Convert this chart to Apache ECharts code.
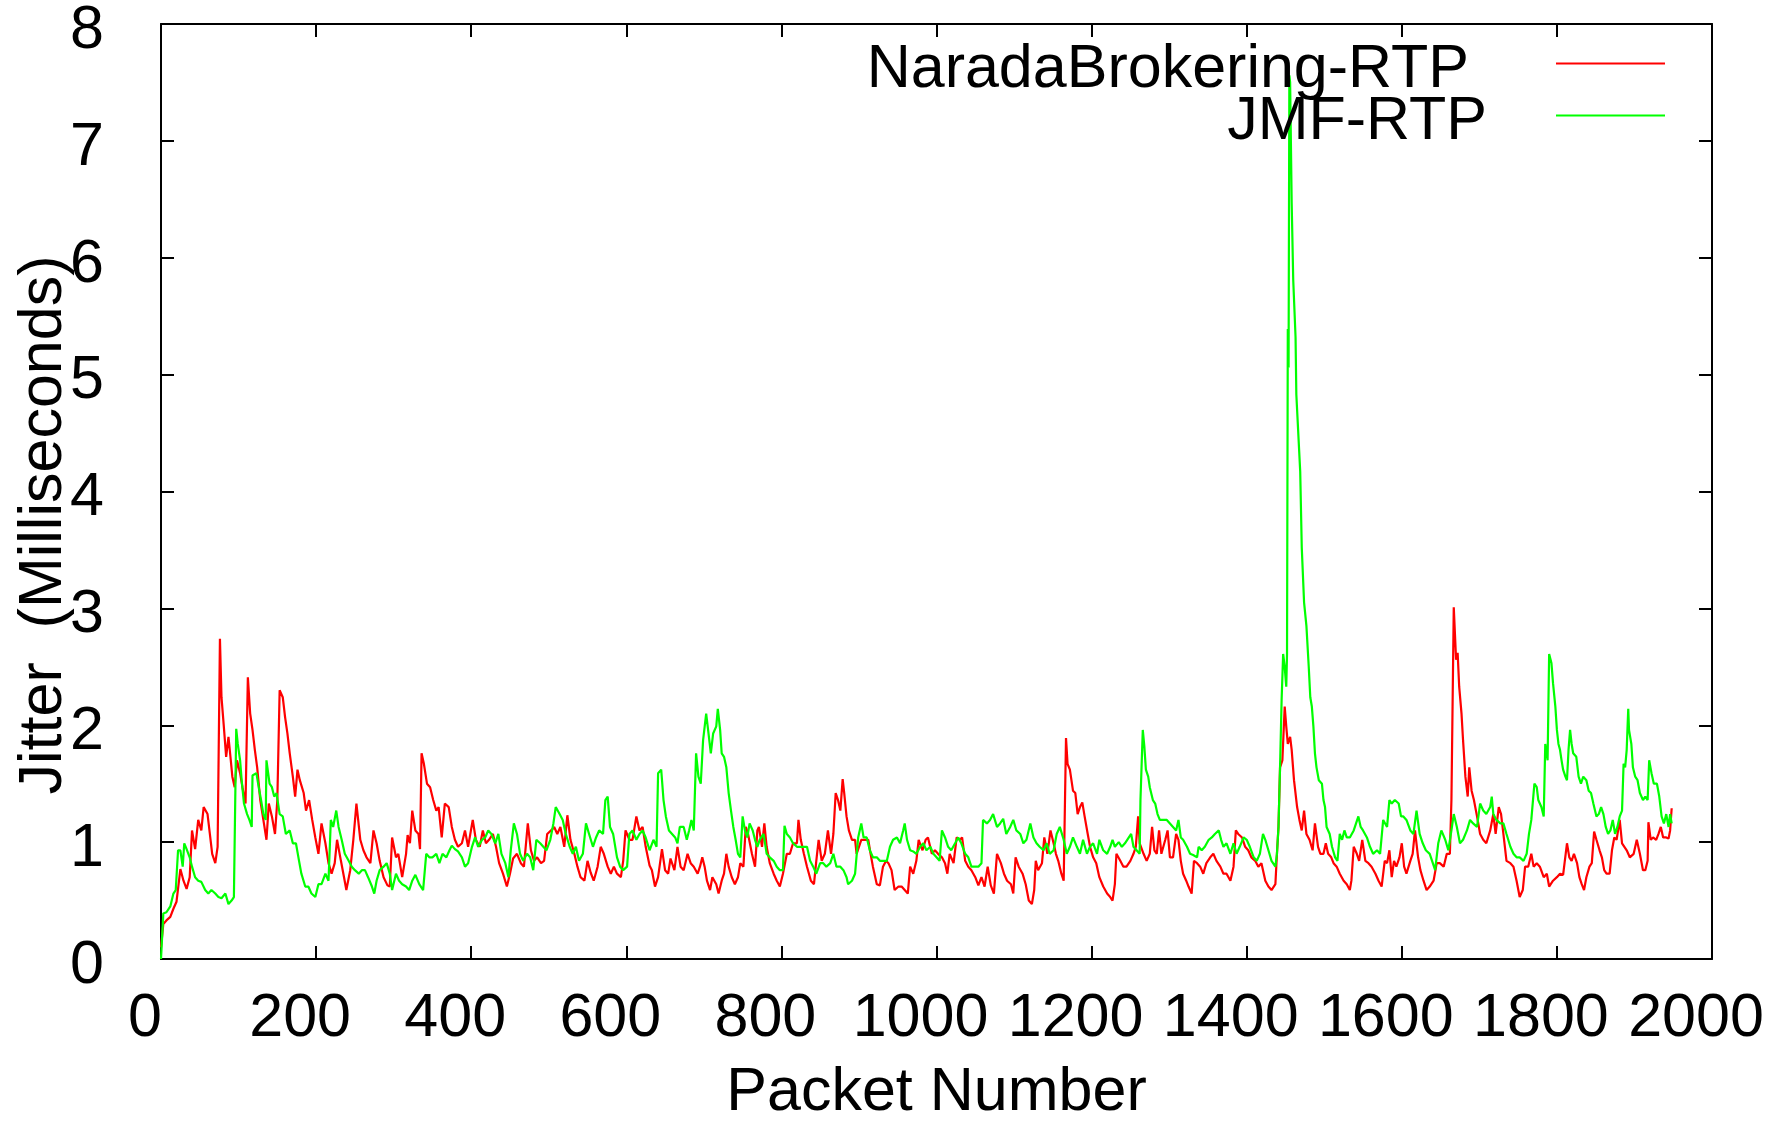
<!DOCTYPE html>
<html>
<head>
<meta charset="utf-8">
<script src="https://cdn.jsdelivr.net/npm/echarts@6/dist/echarts.min.js"></script>
<style>
html,body{margin:0;padding:0;background:#ffffff;}
#chart{width:1767px;height:1121px;}
</style>
</head>
<body>
<div id="chart"></div>
<script>
// ---- data (packet number, jitter in ms) ----
const seriesNames = ['NaradaBrokering-RTP', 'JMF-RTP'];
const xAxisTitle = 'Packet Number';
const yAxisTitle = 'Jitter  (Milliseconds)';
const xRange = [0, 2000, 200];
const yRange = [0, 8, 1];

const narada = [
[0,0.10],[3,0.30],[7,0.33],[12,0.36],[16,0.43],[20,0.49],[25,0.77],[29,0.67],[33,0.60],[37,0.70],
[40,1.10],[44,0.94],[48,1.19],[52,1.10],[55,1.30],[60,1.24],[63,1.07],[66,0.90],[70,0.82],[73,0.96],
[76,2.74],[78,2.24],[81,1.99],[84,1.73],[87,1.90],[90,1.70],[92,1.56],[95,1.47],[98,1.70],[102,1.59],
[105,1.47],[109,1.33],[112,2.41],[115,2.10],[118,1.96],[121,1.79],[124,1.64],[128,1.36],[132,1.19],[136,1.02],
[139,1.33],[143,1.22],[147,1.07],[150,1.36],[153,2.30],[157,2.24],[160,2.07],[163,1.93],[166,1.76],[170,1.56],
[173,1.39],[176,1.62],[179,1.53],[184,1.42],[187,1.27],[191,1.36],[195,1.19],[199,1.04],[203,0.90],[207,1.16],
[212,0.99],[216,0.82],[220,0.73],[224,0.82],[227,1.02],[232,0.84],[236,0.70],[239,0.59],[244,0.76],[248,1.02],
[252,1.33],[257,1.02],[261,0.93],[265,0.87],[270,0.82],[274,1.10],[278,0.99],[282,0.84],[287,0.70],[292,0.63],
[295,0.62],[298,1.04],[303,0.87],[306,0.90],[311,0.70],[316,0.90],[318,1.06],[321,0.99],[324,1.27],[328,1.10],
[332,1.07],[334,0.94],[336,1.76],[339,1.67],[343,1.50],[347,1.47],[351,1.36],[355,1.27],[358,1.30],[362,1.04],
[366,1.33],[371,1.30],[375,1.13],[379,1.02],[383,0.96],[388,0.99],[392,1.10],[396,0.96],[402,1.19],[406,1.02],
[411,0.96],[415,1.10],[419,0.99],[423,1.02],[428,1.07],[432,0.96],[436,0.82],[441,0.73],[446,0.62],[450,0.73],
[454,0.86],[459,0.90],[464,0.82],[468,0.79],[473,1.16],[477,0.93],[481,0.84],[485,0.87],[490,0.82],[494,0.84],
[498,1.07],[503,1.10],[507,1.13],[511,1.07],[515,1.13],[520,0.96],[524,1.23],[528,1.02],[533,0.90],[537,0.79],
[541,0.70],[546,0.67],[550,0.84],[554,0.74],[558,0.67],[563,0.79],[567,0.96],[571,0.90],[576,0.79],[580,0.73],
[584,0.79],[588,0.73],[593,0.70],[596,0.84],[599,1.10],[604,1.02],[608,1.02],[613,1.22],[617,1.10],[621,1.13],
[625,0.96],[630,0.80],[633,0.76],[637,0.62],[641,0.70],[646,0.94],[650,0.76],[654,0.73],[657,0.86],[662,0.76],
[666,0.96],[670,0.79],[674,0.76],[679,0.90],[683,0.82],[687,0.79],[692,0.73],[695,0.79],[698,0.87],[701,0.79],
[704,0.67],[708,0.59],[711,0.70],[716,0.64],[719,0.56],[723,0.67],[726,0.73],[729,0.90],[732,0.79],[736,0.70],
[740,0.64],[744,0.70],[747,0.82],[751,0.79],[754,1.13],[757,1.07],[762,0.90],[766,0.79],[769,1.10],[771,1.13],
[775,0.96],[778,1.16],[781,0.96],[785,0.82],[790,0.73],[794,0.67],[798,0.62],[802,0.73],[807,0.90],[811,0.90],
[815,0.99],[820,0.99],[822,1.19],[825,1.02],[829,0.90],[833,0.79],[838,0.67],[842,0.64],[845,0.84],[848,1.02],
[852,0.84],[856,0.90],[860,1.10],[864,0.90],[867,1.07],[870,1.42],[873,1.36],[876,1.27],[879,1.54],[881,1.42],
[884,1.22],[887,1.10],[891,1.02],[895,1.02],[897,0.90],[900,0.96],[903,1.02],[908,1.02],[912,1.02],[915,0.90],
[918,0.79],[923,0.64],[927,0.63],[931,0.79],[935,0.84],[938,0.82],[942,0.76],[946,0.59],[951,0.62],[955,0.62],
[959,0.59],[963,0.56],[966,0.79],[970,0.73],[974,0.84],[977,1.02],[982,0.93],[986,1.02],[989,1.04],[994,0.90],
[998,0.93],[1002,0.90],[1007,0.87],[1011,0.82],[1014,0.73],[1017,0.90],[1022,0.82],[1026,1.04],[1030,1.02],[1033,1.04],
[1037,0.84],[1041,0.79],[1045,0.76],[1050,0.70],[1054,0.63],[1058,0.70],[1062,0.62],[1066,0.79],[1070,0.63],[1074,0.56],
[1078,0.90],[1083,0.82],[1087,0.73],[1091,0.67],[1096,0.64],[1099,0.56],[1102,0.87],[1106,0.79],[1111,0.73],[1115,0.64],
[1119,0.50],[1123,0.47],[1126,0.59],[1128,0.84],[1131,0.76],[1136,0.82],[1139,1.04],[1143,0.90],[1147,1.10],[1151,0.99],
[1154,0.90],[1157,0.84],[1161,0.73],[1164,0.67],[1167,1.89],[1169,1.67],[1172,1.62],[1176,1.44],[1179,1.42],[1182,1.24],
[1185,1.30],[1188,1.34],[1191,1.22],[1195,1.07],[1198,0.96],[1202,0.87],[1206,0.82],[1210,0.70],[1215,0.62],[1220,0.56],
[1224,0.53],[1227,0.50],[1230,0.64],[1232,0.90],[1237,0.84],[1241,0.79],[1245,0.79],[1250,0.84],[1254,0.90],[1257,0.96],
[1260,1.22],[1262,0.99],[1267,0.90],[1271,0.84],[1275,0.90],[1278,1.13],[1281,0.93],[1284,0.90],[1287,1.10],[1290,0.90],
[1295,1.02],[1298,1.10],[1301,0.87],[1305,0.87],[1309,1.07],[1312,1.02],[1315,0.84],[1318,0.73],[1322,0.67],[1325,0.62],
[1329,0.56],[1332,0.84],[1336,0.82],[1340,0.79],[1344,0.73],[1348,0.82],[1353,0.87],[1357,0.90],[1361,0.84],[1366,0.79],
[1370,0.73],[1374,0.73],[1379,0.67],[1383,0.79],[1386,1.10],[1389,1.07],[1394,1.04],[1398,0.96],[1402,0.93],[1406,0.87],
[1411,0.84],[1415,0.79],[1419,0.82],[1424,0.67],[1428,0.62],[1432,0.59],[1437,0.64],[1439,0.90],[1441,1.13],[1443,1.64],
[1446,1.70],[1449,2.16],[1451,1.99],[1453,1.84],[1456,1.90],[1458,1.79],[1461,1.53],[1465,1.30],[1468,1.19],[1471,1.10],
[1474,1.27],[1477,1.07],[1481,1.02],[1485,0.93],[1488,1.16],[1492,0.96],[1495,0.90],[1499,0.90],[1502,0.99],[1505,0.90],
[1509,0.87],[1512,0.82],[1516,0.79],[1520,0.73],[1525,0.67],[1529,0.64],[1533,0.59],[1535,0.67],[1538,0.96],[1542,0.90],
[1545,0.84],[1549,1.02],[1553,0.84],[1557,0.82],[1561,0.79],[1566,0.73],[1570,0.67],[1574,0.62],[1578,0.84],[1581,0.82],
[1584,0.93],[1587,0.70],[1590,0.84],[1593,0.79],[1597,0.87],[1600,0.99],[1603,0.79],[1606,0.73],[1611,0.84],[1614,0.90],
[1617,1.10],[1621,0.87],[1624,0.76],[1628,0.67],[1632,0.59],[1636,0.62],[1641,0.67],[1645,0.82],[1649,0.82],[1654,0.79],
[1658,0.90],[1662,0.90],[1664,1.36],[1667,3.01],[1670,2.56],[1672,2.62],[1674,2.33],[1677,2.10],[1679,1.87],[1682,1.56],
[1685,1.39],[1687,1.64],[1690,1.44],[1693,1.36],[1697,1.22],[1701,1.07],[1705,1.02],[1709,0.99],[1714,1.10],[1718,1.24],
[1721,1.07],[1725,1.30],[1728,1.24],[1731,1.07],[1735,0.84],[1740,0.82],[1744,0.79],[1748,0.67],[1752,0.53],[1756,0.59],
[1759,0.79],[1763,0.79],[1767,0.90],[1770,0.79],[1774,0.82],[1778,0.79],[1783,0.70],[1787,0.73],[1790,0.62],[1795,0.67],
[1800,0.70],[1804,0.73],[1808,0.72],[1813,0.99],[1816,0.87],[1819,0.84],[1822,0.90],[1826,0.82],[1829,0.70],[1832,0.64],
[1835,0.59],[1838,0.70],[1842,0.79],[1845,0.82],[1848,1.09],[1851,1.02],[1855,0.93],[1858,0.87],[1861,0.76],[1864,0.73],
[1868,0.73],[1871,0.93],[1874,1.04],[1877,1.02],[1881,1.19],[1884,0.99],[1887,0.96],[1890,0.93],[1894,0.87],[1899,0.90],
[1903,1.02],[1907,0.90],[1911,0.76],[1914,0.76],[1917,0.84],[1918,1.17],[1921,1.02],[1924,1.04],[1928,1.02],[1931,1.07],
[1934,1.13],[1937,1.04],[1941,1.04],[1944,1.03],[1946,1.10],[1948,1.29]
];

const jmf = [
[0,0.00],[3,0.39],[7,0.40],[12,0.45],[16,0.56],[19,0.59],[22,0.93],[25,0.93],[28,0.79],[30,0.99],
[33,0.94],[37,0.87],[40,0.79],[44,0.70],[48,0.67],[52,0.66],[57,0.59],[61,0.56],[65,0.59],[70,0.56],
[74,0.53],[78,0.52],[83,0.56],[87,0.47],[91,0.50],[94,0.53],[97,1.97],[99,1.84],[102,1.70],[104,1.53],
[107,1.33],[111,1.24],[114,1.19],[117,1.13],[118,1.57],[123,1.59],[126,1.47],[129,1.36],[132,1.24],[135,1.19],
[136,1.70],[140,1.50],[143,1.47],[146,1.39],[149,1.42],[153,1.24],[157,1.22],[161,1.07],[166,1.10],[170,0.99],
[174,0.99],[178,0.84],[181,0.73],[186,0.62],[190,0.62],[194,0.56],[199,0.53],[203,0.64],[207,0.64],[212,0.73],
[216,0.67],[219,1.19],[222,1.13],[226,1.27],[229,1.13],[233,1.02],[237,0.90],[242,0.84],[246,0.79],[250,0.76],
[255,0.73],[259,0.76],[263,0.76],[267,0.70],[272,0.62],[275,0.56],[278,0.67],[282,0.76],[287,0.79],[291,0.82],
[295,0.73],[298,0.59],[303,0.73],[307,0.67],[311,0.64],[316,0.62],[320,0.59],[324,0.67],[328,0.72],[333,0.64],
[338,0.59],[342,0.90],[346,0.87],[350,0.87],[355,0.90],[359,0.82],[363,0.90],[368,0.87],[372,0.93],[375,0.97],
[379,0.94],[383,0.92],[388,0.87],[392,0.79],[396,0.82],[401,0.96],[405,1.04],[409,0.96],[414,1.02],[418,1.04],
[422,1.10],[426,1.07],[431,0.99],[435,1.07],[439,0.90],[444,0.82],[448,0.70],[451,0.93],[455,1.16],[459,1.07],
[463,0.90],[467,0.84],[472,0.90],[476,0.87],[480,0.76],[484,1.02],[489,0.99],[493,0.96],[497,0.93],[502,1.02],
[506,1.16],[509,1.30],[514,1.24],[518,1.19],[522,1.07],[527,0.96],[531,0.90],[535,0.96],[539,0.84],[544,0.90],
[548,1.16],[552,1.07],[557,0.96],[561,1.04],[565,1.10],[570,1.07],[573,1.36],[576,1.39],[579,1.13],[583,1.07],
[588,0.87],[592,0.79],[596,0.76],[601,0.79],[604,1.07],[608,1.10],[613,1.02],[617,1.07],[621,1.10],[625,1.04],
[630,0.93],[635,1.02],[639,0.96],[641,1.59],[645,1.62],[648,1.36],[651,1.22],[655,1.10],[659,1.07],[663,1.04],
[666,0.99],[669,1.13],[674,1.13],[678,1.02],[681,1.10],[684,1.19],[687,1.10],[690,1.76],[693,1.56],[696,1.50],
[699,1.87],[703,2.10],[706,1.93],[709,1.76],[712,1.93],[716,1.99],[718,2.14],[721,1.96],[723,1.76],[726,1.73],
[729,1.64],[732,1.42],[735,1.27],[738,1.13],[741,1.02],[744,0.90],[747,0.87],[750,1.22],[753,1.10],[756,1.04],
[759,1.16],[763,1.10],[766,1.02],[769,0.96],[772,1.02],[777,1.07],[781,0.90],[785,0.87],[790,0.84],[794,0.79],
[798,0.76],[802,0.76],[804,1.14],[807,1.07],[811,1.04],[815,0.99],[820,0.96],[824,0.96],[828,0.96],[833,0.96],
[837,0.84],[841,0.79],[845,0.73],[850,0.82],[854,0.82],[858,0.79],[863,0.82],[867,0.90],[871,0.79],[876,0.79],
[880,0.76],[884,0.70],[886,0.64],[891,0.67],[895,0.73],[899,1.04],[903,1.16],[906,1.04],[910,1.04],[914,0.93],
[918,0.87],[923,0.87],[927,0.84],[931,0.84],[936,0.84],[940,0.96],[944,1.02],[949,1.04],[953,0.99],[957,1.10],
[959,1.16],[962,1.02],[966,0.93],[970,0.92],[974,0.90],[979,0.96],[983,0.99],[987,0.93],[992,0.96],[996,0.90],
[1000,0.87],[1004,0.84],[1007,1.10],[1011,1.04],[1015,0.96],[1019,0.93],[1024,0.99],[1028,1.04],[1032,0.99],[1037,0.90],
[1041,0.87],[1045,0.79],[1050,0.79],[1054,0.79],[1058,0.82],[1060,1.19],[1065,1.16],[1069,1.19],[1073,1.24],[1078,1.13],
[1082,1.16],[1086,1.20],[1090,1.07],[1095,1.13],[1099,1.19],[1103,1.10],[1108,1.07],[1112,0.99],[1116,1.02],[1121,1.16],
[1125,1.04],[1129,0.99],[1133,0.96],[1138,0.93],[1142,0.99],[1146,0.90],[1151,0.93],[1155,1.07],[1159,1.13],[1164,1.02],
[1168,0.90],[1172,0.96],[1176,1.04],[1181,0.96],[1185,0.90],[1189,1.02],[1194,0.90],[1198,0.96],[1202,0.99],[1207,0.90],
[1210,1.02],[1215,0.93],[1220,0.90],[1224,0.96],[1227,1.02],[1230,0.96],[1235,1.00],[1239,0.96],[1243,0.99],[1247,1.03],
[1251,1.07],[1254,0.96],[1258,0.93],[1262,0.90],[1263,1.36],[1266,1.96],[1268,1.82],[1270,1.62],[1273,1.56],[1275,1.47],
[1279,1.36],[1282,1.33],[1285,1.24],[1288,1.19],[1293,1.19],[1297,1.19],[1301,1.16],[1305,1.13],[1309,1.10],[1312,1.19],
[1315,1.04],[1318,1.02],[1323,0.96],[1327,0.90],[1331,0.89],[1336,0.87],[1338,0.96],[1342,0.93],[1346,0.96],[1351,1.02],
[1355,1.04],[1359,1.07],[1364,1.10],[1367,1.02],[1370,0.96],[1374,0.99],[1379,0.90],[1383,0.99],[1387,0.90],[1391,0.96],
[1396,1.04],[1400,1.02],[1404,0.96],[1409,0.87],[1413,0.84],[1417,0.90],[1421,1.07],[1424,1.02],[1428,0.93],[1432,0.84],
[1437,0.79],[1439,0.90],[1441,1.13],[1443,1.64],[1445,2.21],[1447,2.61],[1449,2.50],[1451,2.33],[1452,2.61],[1453,5.39],
[1454,5.06],[1455,7.56],[1456,7.50],[1458,6.47],[1460,5.81],[1463,5.32],[1464,4.83],[1469,4.17],[1471,3.52],[1474,3.05],
[1477,2.85],[1480,2.50],[1482,2.24],[1484,2.16],[1486,1.99],[1488,1.76],[1490,1.64],[1493,1.53],[1497,1.50],[1499,1.36],
[1501,1.30],[1503,1.13],[1507,1.07],[1510,0.96],[1514,0.87],[1517,0.84],[1520,1.07],[1523,1.02],[1526,1.10],[1529,1.04],
[1533,1.04],[1538,1.10],[1541,1.16],[1544,1.22],[1547,1.13],[1550,1.10],[1555,1.04],[1559,0.96],[1563,0.90],[1568,0.93],
[1572,0.90],[1576,1.19],[1581,1.13],[1584,1.36],[1587,1.33],[1591,1.36],[1596,1.33],[1599,1.22],[1602,1.22],[1606,1.19],
[1611,1.10],[1615,1.07],[1619,1.27],[1623,1.07],[1627,0.99],[1631,0.93],[1636,0.90],[1640,0.82],[1643,0.76],[1647,0.99],
[1651,1.10],[1656,1.02],[1660,0.93],[1664,1.10],[1667,1.24],[1671,1.13],[1675,0.99],[1679,1.02],[1684,1.10],[1688,1.19],
[1692,1.16],[1697,1.13],[1701,1.33],[1705,1.27],[1709,1.24],[1714,1.30],[1716,1.39],[1718,1.24],[1722,1.19],[1727,1.16],
[1731,1.16],[1735,1.07],[1740,0.96],[1744,0.90],[1748,0.87],[1752,0.87],[1757,0.84],[1761,0.90],[1764,1.07],[1767,1.19],
[1771,1.50],[1774,1.47],[1776,1.36],[1780,1.30],[1783,1.22],[1785,1.84],[1788,1.70],[1790,2.61],[1793,2.53],[1795,2.36],
[1798,2.16],[1800,1.96],[1802,1.84],[1804,1.79],[1806,1.70],[1808,1.62],[1811,1.56],[1813,1.53],[1815,1.79],[1817,1.96],
[1819,1.84],[1821,1.76],[1825,1.73],[1828,1.56],[1831,1.50],[1834,1.56],[1838,1.53],[1841,1.44],[1844,1.42],[1847,1.33],
[1851,1.22],[1854,1.24],[1857,1.30],[1860,1.24],[1863,1.13],[1866,1.07],[1869,1.10],[1872,1.19],[1875,1.07],[1878,1.13],
[1881,1.22],[1884,1.27],[1886,1.67],[1888,1.64],[1890,1.79],[1892,2.14],[1893,1.96],[1896,1.84],[1898,1.64],[1901,1.56],
[1904,1.53],[1907,1.42],[1911,1.36],[1914,1.39],[1917,1.36],[1919,1.70],[1922,1.59],[1925,1.50],[1929,1.50],[1932,1.39],
[1935,1.22],[1938,1.16],[1941,1.24],[1944,1.13],[1946,1.24],[1948,1.16]
];

// ---- chart ----
const FONT = '"Liberation Sans", Arial, Helvetica, sans-serif';
const FS = 61;
const colors = ['#ff0000', '#00ff00'];

function axisBase(range) {
  return {
    type: 'value',
    min: range[0], max: range[1], interval: range[2],
    axisLine: { show: true, onZero: false, lineStyle: { color: '#000', width: 2 } },
    axisTick: { show: true, inside: true, length: 13, lineStyle: { color: '#000', width: 2 } },
    splitLine: { show: false },
    nameMoveOverlap: false
  };
}

const chart = echarts.init(document.getElementById('chart'), null, { renderer: 'canvas' });

function legendCfg(name, top, gapRight) {
  return {
    data: [{ name: name, icon: 'rect' }],
    right: 102, top: top, orient: 'vertical', align: 'right',
    itemWidth: 109, itemHeight: 2, padding: 0, itemGap: 0, selectedMode: false,
    formatter: n => '{t|' + n + '}{s| }',
    textStyle: {
      fontSize: FS, fontFamily: FONT, color: '#000',
      rich: {
        t: { fontSize: FS, lineHeight: FS, fontFamily: FONT, color: '#000', verticalAlign: 'bottom' },
        s: { fontSize: 10, lineHeight: FS + 14, width: gapRight }
      }
    }
  };
}

const option = {
  animation: false,
  backgroundColor: '#ffffff',
  grid: { left: 161, right: 55, top: 24, bottom: 162, containLabel: false, outerBoundsMode: 'none' },
  legend: [
    legendCfg(seriesNames[0], 40, 82),
    legendCfg(seriesNames[1], 92, 64)
  ],
  xAxis: [
    Object.assign(axisBase(xRange), {
      position: 'bottom',
      name: xAxisTitle, nameLocation: 'middle', nameGap: 104,
      nameTextStyle: { fontSize: FS, lineHeight: FS, fontFamily: FONT, color: '#000' },
      axisLabel: { show: true, fontSize: FS, lineHeight: FS, fontFamily: FONT, color: '#000',
                   margin: 30, padding: [0, 16, 0, -16], showMinLabel: true, showMaxLabel: true,
                   hideOverlap: false, formatter: v => String(v) }
    }),
    Object.assign(axisBase(xRange), { position: 'top', axisLabel: { show: false } })
  ],
  yAxis: [
    Object.assign(axisBase(yRange), {
      position: 'left',
      name: yAxisTitle, nameLocation: 'middle', nameGap: 86,
      nameTextStyle: { fontSize: FS, lineHeight: FS, fontFamily: FONT, color: '#000',
                       padding: [0, 67, 0, 0] },
      axisLabel: { show: true, fontSize: FS, lineHeight: 14, verticalAlign: 'top',
                   fontFamily: FONT, color: '#000', margin: 57,
                   showMinLabel: true, showMaxLabel: true, formatter: v => String(v) }
    }),
    Object.assign(axisBase(yRange), { position: 'right', axisLabel: { show: false } })
  ],
  series: [
    { name: seriesNames[0], type: 'line', xAxisIndex: 0, yAxisIndex: 0, data: narada,
      symbol: 'none', showSymbol: false, sampling: 'none', z: 2,
      lineStyle: { color: colors[0], width: 2.2 }, itemStyle: { color: colors[0] } },
    { name: seriesNames[1], type: 'line', xAxisIndex: 0, yAxisIndex: 0, data: jmf,
      symbol: 'none', showSymbol: false, sampling: 'none', z: 3,
      lineStyle: { color: colors[1], width: 2.2 }, itemStyle: { color: colors[1] } }
  ]
};
chart.setOption(option);
</script>
</body>
</html>
